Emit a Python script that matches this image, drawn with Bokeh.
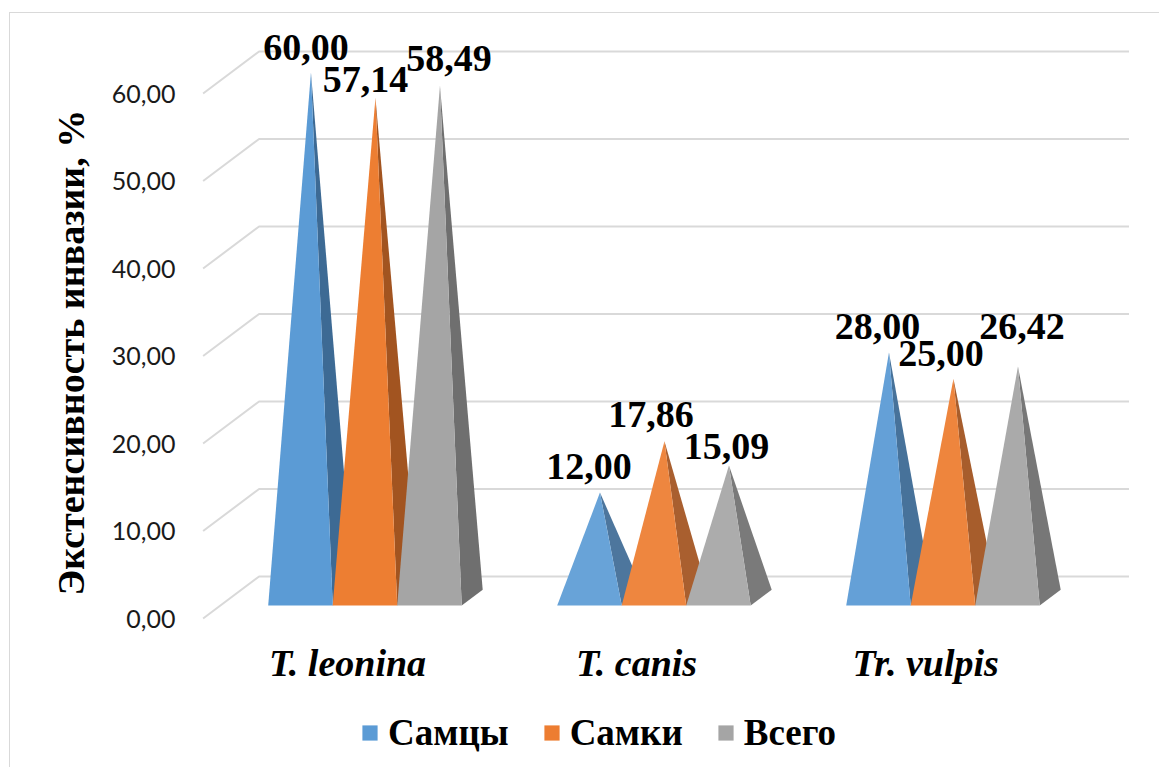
import numpy as np
from bokeh.plotting import figure
from bokeh.models import ColumnDataSource, FixedTicker, Legend, LegendItem, Title
from bokeh.core.properties import value
from bokeh.embed import file_html
from bokeh.resources import INLINE

# ---------------- data ----------------
categories = ["T. leonina", "T. canis", "Tr. vulpis"]
series_names = ["Самцы", "Самки", "Всего"]
samtsy = [60.00, 12.00, 28.00]
samki = [57.14, 17.86, 25.00]
vsego = [58.49, 15.09, 26.42]
y_ticks = [0, 10, 20, 30, 40, 50, 60]
y_tick_labels = ["0,00", "10,00", "20,00", "30,00", "40,00", "50,00", "60,00"]
y_title = "Экстенсивность инвазии, %"

series_values = [samtsy, samki, vsego]
front_colors = ["#5B9BD5", "#ED7D31", "#A5A5A5"]
side_colors = ["#3D6A94", "#A2531F", "#6F6F6F"]

# data-label nudges in px (label placement as in the original), per series/category
label_dx = [[-5, -11, -11.5], [-10, -13.5, -12.5], [9, -2.5, 4]]
label_dy = [[-11, -12, -12], [-4, -13, -11], [-13, -5, -26]]

# ---------------- geometry / styles ----------------
OX, OY = 10, 13      # page position of the canvas (after CSS margin + border)
W, H = 1150, 755
FL = 195 - OX        # frame left (canvas px)
FT = 0               # frame top (canvas px)
PX_CAT = 289.0       # px per category
PX_VAL = 8.75        # px per value unit
x_start = (OX + FL - 347.1) / PX_CAT
x_end = x_start + (W - FL) / PX_CAT
y_end = (618 - (OY + FT)) / PX_VAL
y_start = y_end - (H - FT) / PX_VAL

DX = 56 / PX_CAT      # full-depth oblique shift (x, category units)
DY = 42 / PX_VAL      # full-depth oblique shift (y, value units)
BW = 64.5 / PX_CAT    # pyramid base width
T0, T1 = 0.31, 0.685  # depth range of pyramids
TM = (T0 + T1) / 2
BASELINE_CORR = -14   # alphabetic baseline correction (px)

SERIF = "Liberation Serif"


def mix(hexc, k):
    h = hexc.lstrip("#")
    r, g, b = (int(h[i:i + 2], 16) for i in (0, 2, 4))
    r, g, b = (round(c + (255 - c) * k) for c in (r, g, b))
    return "#%02x%02x%02x" % (r, g, b)


p = figure(width=W, height=H, output_backend="svg", toolbar_location=None,
           x_range=(x_start, x_end), y_range=(y_start, y_end),
           x_axis_location=None, min_border_left=FL, min_border_right=0,
           min_border_top=FT, min_border_bottom=0,
           background_fill_color="white", border_fill_color="white")
p.outline_line_color = None
p.xgrid.visible = False
p.ygrid.visible = False
p.styles = {"margin-left": "9px", "margin-top": "12px",
            "border-left": "1px solid #D9D9D9", "border-top": "1px solid #D9D9D9"}

# y axis
yax = p.yaxis[0]
yax.ticker = FixedTicker(ticks=y_ticks)
yax.major_label_overrides = {t: l for t, l in zip(y_ticks, y_tick_labels)}
yax.axis_line_color = None
yax.major_tick_line_color = None
yax.minor_tick_line_color = None
yax.major_tick_out = 0
yax.major_label_standoff = 20
yax.major_label_text_font = "Lato"
yax.major_label_text_font_size = "25px"
yax.major_label_text_color = "#1a1a1a"

# y-axis title (placed beside the axis, starting 173 px above the frame bottom)
p.add_layout(Title(text=y_title, align="left", offset=173, standoff=34,
                   text_font=SERIF, text_font_style="bold", text_font_size="38px",
                   text_color="black"), "left")

# gridlines (side wall diagonal + back wall horizontal)
GX0, GX1 = -0.5, 2.51
gxs = [[GX0, GX0 + DX, GX1 + DX] for t in y_ticks]
gys = [[t, t + DY, t + DY] for t in y_ticks]
p.multi_line(xs=gxs, ys=gys, line_color="#D9D9D9", line_width=2)

# pyramids
n_ser = len(series_values)
lab_x, lab_y, lab_t, lab_ox, lab_oy = [], [], [], [], []
for j, vals in enumerate(series_values):
    fx, fy, fc, sx, sy, sc = [], [], [], [], [], []
    for i, v in enumerate(vals):
        xl = i + (j - n_ser / 2) * BW
        k = 0.10 * (1 - v / max(y_ticks))
        flx, fly = xl + DX * T0, DY * T0
        frx = xl + BW + DX * T0
        brx, bry = xl + BW + DX * T1, DY * T1
        ax, ay = xl + BW / 2 + DX * TM, v + DY * TM
        fx.append([flx, frx, ax]); fy.append([fly, fly, ay]); fc.append(mix(front_colors[j], k))
        sx.append([frx, brx, ax]); sy.append([fly, bry, ay]); sc.append(mix(side_colors[j], k))
        lab_x.append(ax); lab_y.append(ay); lab_t.append(f"{v:.2f}".replace(".", ","))
        lab_ox.append(label_dx[j][i]); lab_oy.append(label_dy[j][i] + BASELINE_CORR)
    p.patches(xs="xs", ys="ys", fill_color="c", line_color=None,
              source=ColumnDataSource(dict(xs=sx, ys=sy, c=sc)))
    p.patches(xs="xs", ys="ys", fill_color="c", line_color=None,
              source=ColumnDataSource(dict(xs=fx, ys=fy, c=fc)))

# data labels
p.text(x="x", y="y", text="t", x_offset="ox", y_offset="oy",
       source=ColumnDataSource(dict(x=lab_x, y=lab_y, t=lab_t, ox=lab_ox, oy=lab_oy)),
       text_align="center", text_baseline="alphabetic",
       text_font=value(SERIF), text_font_style="bold",
       text_font_size="38px", text_color="black")

# category labels
p.text(x=list(range(len(categories))), y=[-5.14] * len(categories), text=categories,
       text_align="center", text_baseline="middle", text_font=value(SERIF),
       text_font_style="bold italic", text_font_size="38px", text_color="black")

# legend (swatch renderers hold no visible data)
nan = float("nan")
items = []
for j, name in enumerate(series_names):
    r = p.quad(left=[nan], right=[nan], top=[nan], bottom=[nan],
               fill_color=front_colors[j], line_color=None)
    items.append(LegendItem(label=name, renderers=[r]))
legend = Legend(items=items, orientation="horizontal", location=(165, 14),
                padding=0, margin=0, spacing=33, label_standoff=9,
                glyph_width=19, glyph_height=19, border_line_color=None,
                background_fill_alpha=0, label_text_font=SERIF,
                label_text_font_style="bold", label_text_font_size="37px",
                label_text_color="black")
p.add_layout(legend)

open("out.html", "w").write(file_html(p, INLINE))
